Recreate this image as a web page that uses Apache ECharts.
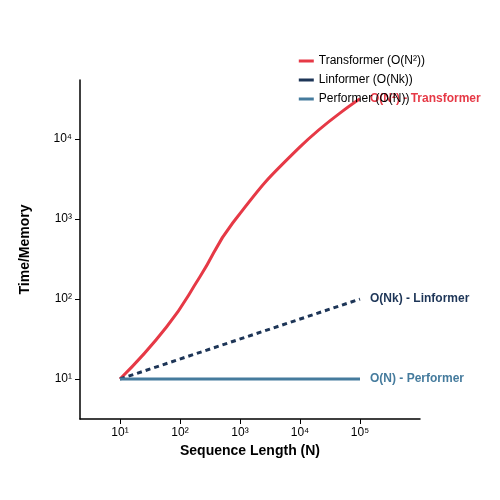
<!DOCTYPE html>
<html><head><meta charset="utf-8">
<script src="https://cdn.jsdelivr.net/npm/echarts@6/dist/echarts.min.js"></script>
<style>html,body{margin:0;padding:0;background:#fff}#c{width:500px;height:500px}</style>
</head><body><div id="c"></div>
<script>
const tickExponents = [1, 2, 3, 4, 5];
const tickLabels = ['10¹', '10²', '10³', '10⁴', '10⁵'];
const yTickExponents = [1, 2, 3, 4];
const yTickLabels = ['10¹', '10²', '10³', '10⁴'];
const transformerN = [10, 60, 215, 760, 10000, 100000];
const transformerV = [10, 45, 190, 900, 8000, 32000];
const linformerN = [10, 100000];
const linformerV = [10, 100];
const performerN = [10, 100000];
const performerV = [10, 10];
const toLog = (xs, ys) => xs.map((x, i) => [Math.log10(x), Math.log10(ys[i])]);
const labelMap = (exps, labels) => v => { const i = exps.findIndex(e => Math.abs(e - v) < 1e-6); return i >= 0 ? labels[i] : ''; };
const C = ['#e63946', '#1d3557', '#457b9d'];
const endLbl = (txt, col) => ({show: true, formatter: txt, color: col, fontWeight: 'bold', fontSize: 12, distance: 10, fontFamily: 'Liberation Sans'});
const chart = echarts.init(document.getElementById('c'));
chart.setOption({
  animation: false,
  textStyle: {fontFamily: 'Liberation Sans'},
  grid: {left: 80, right: 80, top: 80, bottom: 81},
  legend: {top: 50, right: 70, orient: 'vertical', itemWidth: 15, itemHeight: 3, itemGap: 7,
    textStyle: {fontSize: 12, color: '#000'}, icon: 'rect',
    data: ['Transformer (O(N²))', 'Linformer (O(Nk))', 'Performer (O(N))']},
  xAxis: {type: 'value', min: Math.log10(10) - 2/3, max: 6,
    name: 'Sequence Length (N)', nameLocation: 'middle', nameGap: 16,
    nameTextStyle: {fontWeight: 'bold', fontSize: 14, color: '#000'},
    axisLine: {lineStyle: {color: '#000', width: 1.5}}, splitLine: {show: false},
    axisTick: {show: true, customValues: tickExponents, lineStyle: {color: '#000'}},
    axisLabel: {customValues: tickExponents, formatter: labelMap(tickExponents, tickLabels), color: '#000', fontSize: 12}},
  yAxis: {type: 'value', min: 0.5, max: 4.74,
    name: 'Time/Memory', nameLocation: 'middle', nameGap: 48,
    nameTextStyle: {fontWeight: 'bold', fontSize: 14, color: '#000'},
    axisLine: {show: true, lineStyle: {color: '#000', width: 1.5}}, splitLine: {show: false},
    axisTick: {show: true, customValues: yTickExponents, lineStyle: {color: '#000'}},
    axisLabel: {customValues: yTickExponents, formatter: labelMap(yTickExponents, yTickLabels), color: '#000', fontSize: 12}},
  series: [
    {name: 'Transformer (O(N²))', type: 'line', smooth: true, showSymbol: false, data: toLog(transformerN, transformerV),
     lineStyle: {color: C[0], width: 3}, itemStyle: {color: C[0]}, endLabel: endLbl('O(N²) - Transformer', C[0])},
    {name: 'Linformer (O(Nk))', type: 'line', showSymbol: false, data: toLog(linformerN, linformerV),
     lineStyle: {color: C[1], width: 3, type: [5, 4]}, itemStyle: {color: C[1]}, endLabel: endLbl('O(Nk) - Linformer', C[1])},
    {name: 'Performer (O(N))', type: 'line', showSymbol: false, data: toLog(performerN, performerV),
     lineStyle: {color: C[2], width: 3}, itemStyle: {color: C[2]}, endLabel: endLbl('O(N) - Performer', C[2])}
  ]
});
</script></body></html>
